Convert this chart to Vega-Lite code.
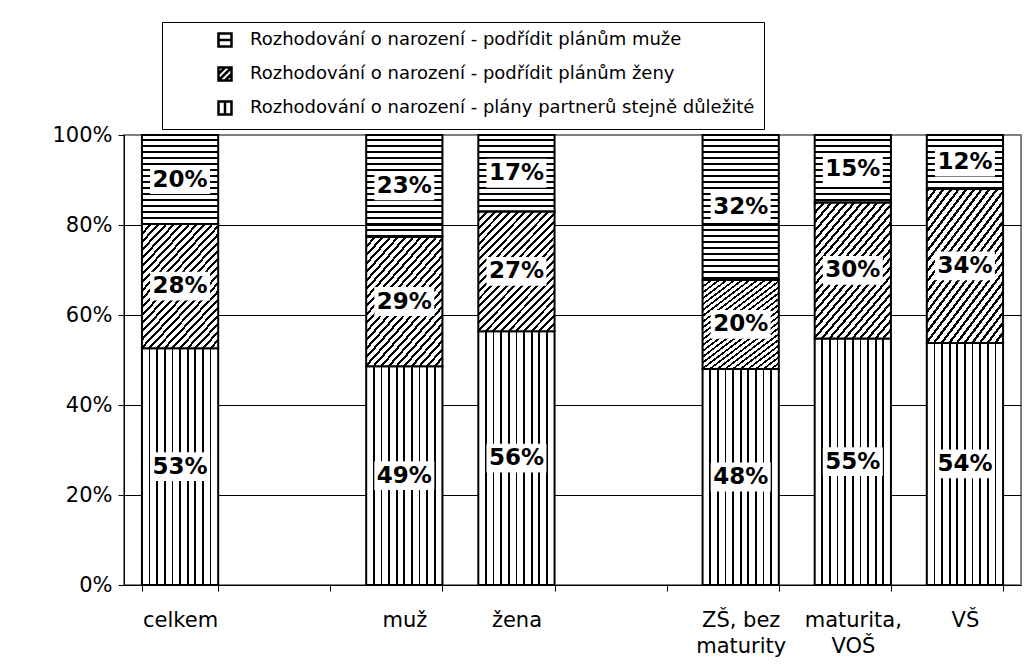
{
  "$schema": "https://vega.github.io/schema/vega-lite/v6.json",
  "width": 897,
  "height": 450,
  "autosize": {"type": "none"},
  "padding": {"left": 124, "top": 135, "right": 10, "bottom": 80},
  "background": "white",
  "config": {
    "font": "DejaVu Sans",
    "view": {"stroke": "#808080", "strokeWidth": 2}
  },
  "data": {
    "values": [
      {"cat": "celkem", "series": "Rozhodování o narození - plány partnerů stejně důležité", "rank": 1, "value": 0.526},
      {"cat": "celkem", "series": "Rozhodování o narození - podřídit plánům ženy", "rank": 2, "value": 0.276},
      {"cat": "celkem", "series": "Rozhodování o narození - podřídit plánům muže", "rank": 3, "value": 0.198},
      {"cat": "muž", "series": "Rozhodování o narození - plány partnerů stejně důležité", "rank": 1, "value": 0.486},
      {"cat": "muž", "series": "Rozhodování o narození - podřídit plánům ženy", "rank": 2, "value": 0.288},
      {"cat": "muž", "series": "Rozhodování o narození - podřídit plánům muže", "rank": 3, "value": 0.226},
      {"cat": "žena", "series": "Rozhodování o narození - plány partnerů stejně důležité", "rank": 1, "value": 0.564},
      {"cat": "žena", "series": "Rozhodování o narození - podřídit plánům ženy", "rank": 2, "value": 0.266},
      {"cat": "žena", "series": "Rozhodování o narození - podřídit plánům muže", "rank": 3, "value": 0.170},
      {"cat": "ZŠ, bez maturity", "series": "Rozhodování o narození - plány partnerů stejně důležité", "rank": 1, "value": 0.480},
      {"cat": "ZŠ, bez maturity", "series": "Rozhodování o narození - podřídit plánům ženy", "rank": 2, "value": 0.198},
      {"cat": "ZŠ, bez maturity", "series": "Rozhodování o narození - podřídit plánům muže", "rank": 3, "value": 0.322},
      {"cat": "maturita, VOŠ", "series": "Rozhodování o narození - plány partnerů stejně důležité", "rank": 1, "value": 0.548},
      {"cat": "maturita, VOŠ", "series": "Rozhodování o narození - podřídit plánům ženy", "rank": 2, "value": 0.302},
      {"cat": "maturita, VOŠ", "series": "Rozhodování o narození - podřídit plánům muže", "rank": 3, "value": 0.150},
      {"cat": "VŠ", "series": "Rozhodování o narození - plány partnerů stejně důležité", "rank": 1, "value": 0.538},
      {"cat": "VŠ", "series": "Rozhodování o narození - podřídit plánům ženy", "rank": 2, "value": 0.342},
      {"cat": "VŠ", "series": "Rozhodování o narození - podřídit plánům muže", "rank": 3, "value": 0.120}
    ]
  },
  "encoding": {
    "x": {
      "field": "cat",
      "type": "nominal",
      "scale": {
        "domain": ["celkem", "_1", "muž", "žena", "_2", "ZŠ, bez maturity", "maturita, VOŠ", "VŠ"],
        "paddingInner": 0.32,
        "paddingOuter": 0.16
      },
      "axis": {
        "title": null,
        "labelAngle": 0,
        "labelFontSize": 21,
        "labelColor": "black",
        "labelPadding": 18,
        "labelLineHeight": 26,
        "labelBaseline": "top",
        "tickBand": "extent",
        "tickSize": 6,
        "tickColor": "black",
        "domainColor": "black",
        "grid": false,
        "labelExpr": "datum.value == 'ZŠ, bez maturity' ? ['ZŠ, bez', 'maturity'] : datum.value == 'maturita, VOŠ' ? ['maturita,', 'VOŠ'] : (datum.value == '_1' || datum.value == '_2') ? '' : datum.value"
      }
    }
  },
  "layer": [
    {
      "transform": [{"filter": "datum.rank == 3"}],
      "mark": {"type": "rule", "strokeWidth": 76, "strokeDash": [2, 4], "color": "black", "strokeCap": "butt"},
      "encoding": {
        "y": {"datum": 0, "type": "quantitative"},
        "y2": {"datum": 1}
      }
    },
    {
      "mark": {"type": "bar", "stroke": "black", "strokeWidth": 2},
      "encoding": {
        "y": {
          "field": "value",
          "type": "quantitative",
          "stack": "zero",
          "scale": {"domain": [0, 1], "nice": false},
          "axis": {
            "title": null,
            "values": [0, 0.2, 0.4, 0.6, 0.8, 1],
            "format": ".0%",
            "labelFontSize": 21,
            "labelColor": "black",
            "labelPadding": 6,
            "tickSize": 6,
            "tickColor": "black",
            "domainColor": "black",
            "grid": true,
            "gridColor": {"condition": {"test": "datum.value == 1", "value": "#808080"}, "value": "black"},
            "gridOpacity": 1
          }
        },
        "order": {"field": "rank", "type": "quantitative", "sort": "ascending"},
        "detail": {"field": "series", "type": "nominal"},
        "fill": {
          "condition": [
            {"test": "datum.rank == 1", "value": {"gradient": "linear", "x1": 0, "y1": 0, "x2": 1, "y2": 0, "stops": [
              {"offset": 0, "color": "white"},
              {"offset": 0.089, "color": "white"}, {"offset": 0.089, "color": "black"}, {"offset": 0.111, "color": "black"}, {"offset": 0.111, "color": "white"},
              {"offset": 0.189, "color": "white"}, {"offset": 0.189, "color": "black"}, {"offset": 0.211, "color": "black"}, {"offset": 0.211, "color": "white"},
              {"offset": 0.289, "color": "white"}, {"offset": 0.289, "color": "black"}, {"offset": 0.311, "color": "black"}, {"offset": 0.311, "color": "white"},
              {"offset": 0.389, "color": "white"}, {"offset": 0.389, "color": "black"}, {"offset": 0.411, "color": "black"}, {"offset": 0.411, "color": "white"},
              {"offset": 0.489, "color": "white"}, {"offset": 0.489, "color": "black"}, {"offset": 0.511, "color": "black"}, {"offset": 0.511, "color": "white"},
              {"offset": 0.589, "color": "white"}, {"offset": 0.589, "color": "black"}, {"offset": 0.611, "color": "black"}, {"offset": 0.611, "color": "white"},
              {"offset": 0.689, "color": "white"}, {"offset": 0.689, "color": "black"}, {"offset": 0.711, "color": "black"}, {"offset": 0.711, "color": "white"},
              {"offset": 0.789, "color": "white"}, {"offset": 0.789, "color": "black"}, {"offset": 0.811, "color": "black"}, {"offset": 0.811, "color": "white"},
              {"offset": 0.889, "color": "white"}, {"offset": 0.889, "color": "black"}, {"offset": 0.911, "color": "black"}, {"offset": 0.911, "color": "white"},
              {"offset": 1, "color": "white"}
            ]}},
            {"test": "datum.rank == 2", "value": {"gradient": "linear", "x1": 0, "y1": 0, "x2": 0.75, "y2": 1.15, "stops": [
              {"offset": 0, "color": "black"}, {"offset": 0.015, "color": "black"}, {"offset": 0.015, "color": "white"}, {"offset": 0.04, "color": "white"},
              {"offset": 0.04, "color": "black"}, {"offset": 0.055, "color": "black"}, {"offset": 0.055, "color": "white"}, {"offset": 0.08, "color": "white"},
              {"offset": 0.08, "color": "black"}, {"offset": 0.095, "color": "black"}, {"offset": 0.095, "color": "white"}, {"offset": 0.12, "color": "white"},
              {"offset": 0.12, "color": "black"}, {"offset": 0.135, "color": "black"}, {"offset": 0.135, "color": "white"}, {"offset": 0.16, "color": "white"},
              {"offset": 0.16, "color": "black"}, {"offset": 0.175, "color": "black"}, {"offset": 0.175, "color": "white"}, {"offset": 0.2, "color": "white"},
              {"offset": 0.2, "color": "black"}, {"offset": 0.215, "color": "black"}, {"offset": 0.215, "color": "white"}, {"offset": 0.24, "color": "white"},
              {"offset": 0.24, "color": "black"}, {"offset": 0.255, "color": "black"}, {"offset": 0.255, "color": "white"}, {"offset": 0.28, "color": "white"},
              {"offset": 0.28, "color": "black"}, {"offset": 0.295, "color": "black"}, {"offset": 0.295, "color": "white"}, {"offset": 0.32, "color": "white"},
              {"offset": 0.32, "color": "black"}, {"offset": 0.335, "color": "black"}, {"offset": 0.335, "color": "white"}, {"offset": 0.36, "color": "white"},
              {"offset": 0.36, "color": "black"}, {"offset": 0.375, "color": "black"}, {"offset": 0.375, "color": "white"}, {"offset": 0.4, "color": "white"},
              {"offset": 0.4, "color": "black"}, {"offset": 0.415, "color": "black"}, {"offset": 0.415, "color": "white"}, {"offset": 0.44, "color": "white"},
              {"offset": 0.44, "color": "black"}, {"offset": 0.455, "color": "black"}, {"offset": 0.455, "color": "white"}, {"offset": 0.48, "color": "white"},
              {"offset": 0.48, "color": "black"}, {"offset": 0.495, "color": "black"}, {"offset": 0.495, "color": "white"}, {"offset": 0.52, "color": "white"},
              {"offset": 0.52, "color": "black"}, {"offset": 0.535, "color": "black"}, {"offset": 0.535, "color": "white"}, {"offset": 0.56, "color": "white"},
              {"offset": 0.56, "color": "black"}, {"offset": 0.575, "color": "black"}, {"offset": 0.575, "color": "white"}, {"offset": 0.6, "color": "white"},
              {"offset": 0.6, "color": "black"}, {"offset": 0.615, "color": "black"}, {"offset": 0.615, "color": "white"}, {"offset": 0.64, "color": "white"},
              {"offset": 0.64, "color": "black"}, {"offset": 0.655, "color": "black"}, {"offset": 0.655, "color": "white"}, {"offset": 0.68, "color": "white"},
              {"offset": 0.68, "color": "black"}, {"offset": 0.695, "color": "black"}, {"offset": 0.695, "color": "white"}, {"offset": 0.72, "color": "white"},
              {"offset": 0.72, "color": "black"}, {"offset": 0.735, "color": "black"}, {"offset": 0.735, "color": "white"}, {"offset": 0.76, "color": "white"},
              {"offset": 0.76, "color": "black"}, {"offset": 0.775, "color": "black"}, {"offset": 0.775, "color": "white"}, {"offset": 0.8, "color": "white"},
              {"offset": 0.8, "color": "black"}, {"offset": 0.815, "color": "black"}, {"offset": 0.815, "color": "white"}, {"offset": 0.84, "color": "white"},
              {"offset": 0.84, "color": "black"}, {"offset": 0.855, "color": "black"}, {"offset": 0.855, "color": "white"}, {"offset": 0.88, "color": "white"},
              {"offset": 0.88, "color": "black"}, {"offset": 0.895, "color": "black"}, {"offset": 0.895, "color": "white"}, {"offset": 0.92, "color": "white"},
              {"offset": 0.92, "color": "black"}, {"offset": 0.935, "color": "black"}, {"offset": 0.935, "color": "white"}, {"offset": 0.96, "color": "white"},
              {"offset": 0.96, "color": "black"}, {"offset": 0.975, "color": "black"}, {"offset": 0.975, "color": "white"}, {"offset": 1, "color": "white"}
            ]}}
          ],
          "value": "rgba(0,0,0,0)"
        }
      }
    },
    {
      "mark": {"type": "point", "opacity": 0, "filled": false},
      "encoding": {
        "y": {"field": "value", "type": "quantitative", "stack": "zero", "bandPosition": 0.5},
        "order": {"field": "rank", "type": "quantitative", "sort": "ascending"},
        "shape": {
          "field": "series",
          "type": "nominal",
          "scale": {
            "domain": [
              "Rozhodování o narození - podřídit plánům muže",
              "Rozhodování o narození - podřídit plánům ženy",
              "Rozhodování o narození - plány partnerů stejně důležité"
            ],
            "range": [
              "M-1,-1H1V1H-1Z M-1,0H1",
              "M-1,-1H1V1H-1Z M-1,1L1,-1 M-1,0L0,-1 M0,1L1,0",
              "M-1,-1H1V1H-1Z M0,-1V1"
            ]
          },
          "legend": {
            "title": null,
            "orient": "none",
            "legendX": 38,
            "legendY": -113,
            "direction": "vertical",
            "strokeColor": "black",
            "fillColor": "white",
            "padding": 9,
            "symbolSize": 169,
            "symbolOffset": 45,
            "symbolOpacity": 1,
            "symbolFillColor": "white",
            "symbolStrokeColor": "black",
            "symbolStrokeWidth": 2.5,
            "labelFontSize": 18,
            "labelColor": "black",
            "labelOffset": 16,
            "labelLimit": 0,
            "rowPadding": 10
          }
        }
      }
    },
    {
      "mark": {"type": "point", "shape": "M-1,-0.48H1V0.48H-1Z", "size": 3600, "filled": true, "color": "white", "opacity": 1, "strokeWidth": 0},
      "encoding": {
        "y": {"field": "value", "type": "quantitative", "stack": "zero", "bandPosition": 0.5},
        "order": {"field": "rank", "type": "quantitative", "sort": "ascending"},
        "detail": {"field": "series", "type": "nominal"}
      }
    },
    {
      "mark": {"type": "text", "fontWeight": "bold", "fontSize": 23, "color": "black", "baseline": "middle", "align": "center"},
      "encoding": {
        "y": {"field": "value", "type": "quantitative", "stack": "zero", "bandPosition": 0.5},
        "order": {"field": "rank", "type": "quantitative", "sort": "ascending"},
        "detail": {"field": "series", "type": "nominal"},
        "text": {"field": "value", "type": "quantitative", "format": ".0%"}
      }
    }
  ]
}
